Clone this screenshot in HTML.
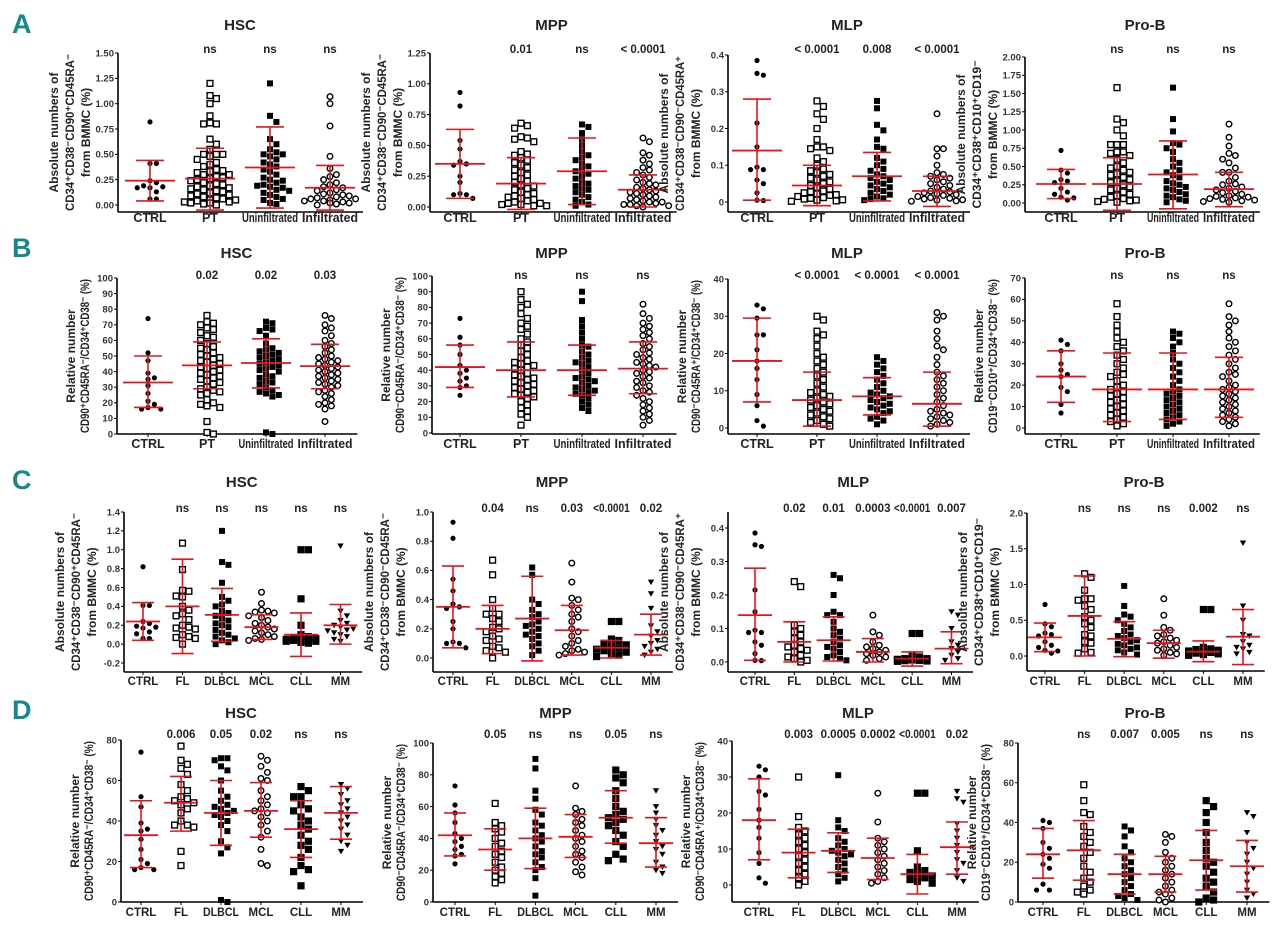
<!DOCTYPE html>
<html><head><meta charset="utf-8">
<style>
html,body{margin:0;padding:0;background:#fff;}
svg{display:block;font-family:"Liberation Sans",Arial,sans-serif;}
</style></head>
<body>
<svg id="fig" width="1280" height="931" viewBox="0 0 1280 931"></svg>
<script>
// ---------- categories ----------
const catsAB = ["CTRL","PT","Uninfiltrated","Infiltrated"];
const catsCD = ["CTRL","FL","DLBCL","MCL","CLL","MM"];
const titles = ["HSC","MPP","MLP","Pro-B"];

// ---------- Row A ----------
const aHscTicks=[0,0.25,0.5,0.75,1.0,1.25,1.5];
const aHscMean=[0.24,0.26,0.37,0.17]; const aHscLo=[0.04,-0.05,-0.03,-0.05]; const aHscHi=[0.44,0.56,0.77,0.39];
const aHscP=["","ns","ns","ns"];
const aHscPts=[[0.82,0.41,0.41,0.24,0.22,0.19,0.18,0.17,0.17,0.13,0.06,0.06],
[1.2,1.08,1.05,1.0,0.88,0.8,0.8,0.81,0.65,0.6,0.55,0.5,0.5,0.5,0.48,0.45,0.42,0.4,0.38,0.35,0.34,0.33,0.32,0.3,0.3,0.28,0.27,0.26,0.25,0.24,0.22,0.21,0.2,0.19,0.18,0.17,0.16,0.15,0.14,0.13,0.12,0.11,0.1,0.09,0.08,0.07,0.06,0.05,0.05,0.04,0.03,0.03,0.02,0.02,0.01,0.01,0.0],
[1.2,0.88,0.82,0.65,0.6,0.55,0.52,0.5,0.5,0.48,0.45,0.42,0.4,0.38,0.35,0.33,0.3,0.27,0.25,0.24,0.22,0.2,0.19,0.18,0.17,0.15,0.14,0.12,0.1,0.08,0.06,0.05,0.02,0.01],
[1.07,1.0,0.78,0.48,0.36,0.3,0.28,0.25,0.22,0.2,0.18,0.17,0.15,0.14,0.12,0.11,0.1,0.09,0.08,0.07,0.06,0.06,0.05,0.04,0.04,0.03,0.02,0.02,0.01,0.01,0.0]];

const aMppTicks=[0,0.25,0.5,0.75,1.0,1.25];
const aMppMean=[0.35,0.19,0.29,0.14]; const aMppLo=[0.07,-0.02,0.02,0.0]; const aMppHi=[0.63,0.4,0.56,0.26];
const aMppP=["","0.01","ns","< 0.0001"];
const aMppPts=[[0.93,0.82,0.54,0.47,0.37,0.35,0.34,0.25,0.2,0.11,0.1,0.1,0.07],
[0.68,0.66,0.64,0.57,0.56,0.55,0.53,0.45,0.43,0.42,0.4,0.38,0.36,0.34,0.32,0.3,0.28,0.26,0.25,0.23,0.21,0.2,0.18,0.17,0.15,0.14,0.12,0.11,0.1,0.09,0.08,0.07,0.06,0.05,0.04,0.03,0.03,0.02,0.02,0.01,0.01],
[0.67,0.65,0.6,0.55,0.5,0.45,0.42,0.4,0.38,0.35,0.33,0.3,0.29,0.27,0.25,0.23,0.2,0.19,0.17,0.15,0.14,0.12,0.1,0.08,0.06,0.04,0.02,0.01],
[0.56,0.53,0.44,0.42,0.38,0.35,0.32,0.3,0.28,0.26,0.24,0.22,0.2,0.19,0.18,0.16,0.15,0.14,0.13,0.12,0.11,0.1,0.09,0.08,0.07,0.06,0.05,0.04,0.04,0.03,0.02,0.02,0.01,0.01,0.0]];

const aMlpTicks=[0,0.1,0.2,0.3,0.4];
const aMlpMean=[0.14,0.045,0.07,0.03]; const aMlpLo=[0.005,-0.01,0.003,-0.012]; const aMlpHi=[0.28,0.1,0.135,0.07];
const aMlpP=["","< 0.0001","0.008","< 0.0001"];
const aMlpPts=[[0.385,0.35,0.345,0.215,0.15,0.095,0.088,0.088,0.06,0.05,0.025,0.005,0.004],
[0.275,0.26,0.24,0.225,0.2,0.17,0.15,0.15,0.145,0.14,0.12,0.11,0.1,0.09,0.085,0.08,0.075,0.07,0.065,0.06,0.055,0.05,0.045,0.04,0.035,0.03,0.028,0.025,0.022,0.02,0.018,0.015,0.012,0.01,0.008,0.006,0.005,0.003,0.002],
[0.275,0.255,0.21,0.195,0.17,0.15,0.145,0.12,0.11,0.1,0.09,0.085,0.075,0.07,0.065,0.06,0.055,0.05,0.045,0.04,0.035,0.03,0.025,0.02,0.015,0.01,0.008,0.005],
[0.24,0.145,0.145,0.125,0.1,0.08,0.075,0.07,0.065,0.06,0.055,0.05,0.045,0.04,0.035,0.03,0.028,0.025,0.022,0.02,0.018,0.015,0.012,0.01,0.008,0.006,0.005,0.003,0.002]];

const aProTicks=[0,0.25,0.5,0.75,1.0,1.25,1.5,1.75,2.0];
const aProMean=[0.26,0.26,0.39,0.19]; const aProLo=[0.06,-0.1,-0.08,-0.05]; const aProHi=[0.46,0.62,0.85,0.42];
const aProP=["","ns","ns","ns"];
const aProPts=[[0.72,0.45,0.41,0.32,0.3,0.28,0.2,0.15,0.12,0.08,0.07,0.04],
[1.58,1.15,1.1,1.0,0.92,0.8,0.8,0.8,0.7,0.7,0.68,0.65,0.6,0.55,0.5,0.48,0.45,0.42,0.4,0.38,0.35,0.32,0.3,0.28,0.25,0.22,0.2,0.18,0.15,0.12,0.1,0.08,0.06,0.05,0.04,0.03,0.02,0.01],
[1.58,1.15,0.98,0.82,0.8,0.75,0.7,0.6,0.55,0.5,0.45,0.42,0.38,0.35,0.3,0.27,0.25,0.22,0.2,0.18,0.15,0.12,0.1,0.08,0.05,0.03,0.01],
[1.08,0.9,0.78,0.68,0.65,0.6,0.55,0.48,0.42,0.42,0.35,0.3,0.26,0.25,0.22,0.2,0.18,0.16,0.14,0.12,0.1,0.09,0.08,0.07,0.06,0.05,0.04,0.03,0.02,0.01]];

// ---------- Row B ----------
const bHscTicks=[0,10,20,30,40,50,60,70,80,90,100];
const bHscMean=[33,44,45.5,43.5]; const bHscLo=[17,29,29.5,29]; const bHscHi=[50,59,61,57.5];
const bHscP=["","0.02","0.02","0.03"];
const bHscPts=[[74,52,47,39,36,35,31,26,21,19,17,16,16],
[76,72,71,70,68,67,65,63,62,60,58,56,55,54,52,51,50,49,48,47,46,45,44,43,42,41,40,39,38,37,36,35,34,33,32,30,29,28,27,26,25,22,20,19,18,17,8,1,0],
[72,71,68,67,66,63,58,55,54,53,52,51,50,49,48,47,46,45,44,43,42,41,40,38,37,36,34,33,32,30,28,27,26,25,24,1,0],
[76,74,70,68,66,63,60,58,56,54,52,50,49,48,47,46,45,44,43,42,41,40,39,38,37,36,35,34,33,32,31,30,28,27,26,24,22,20,19,18,16,8]];

const bMppTicks=[0,10,20,30,40,50,60,70,80,90,100];
const bMppMean=[42,40,40,41]; const bMppLo=[29,23,24,25]; const bMppHi=[56,58,56,58];
const bMppP=["","ns","ns","ns"];
const bMppPts=[[73,61,56,50,43,40,38,35,33,30,29,24],
[90,85,82,80,76,73,70,68,66,63,60,58,56,54,52,50,48,46,45,44,43,42,41,40,38,37,36,35,34,33,32,31,30,29,28,27,26,25,24,23,22,20,18,16,14,12,10,5],
[90,84,72,68,64,60,56,55,52,50,48,46,45,44,42,40,38,36,35,34,33,32,30,29,28,27,26,25,24,22,20,18,16,14],
[82,76,73,70,68,66,64,62,60,57,55,53,51,50,48,47,45,44,43,42,40,39,38,36,35,33,32,30,29,27,26,24,22,20,18,16,14,12,10,8,5]];

const bMlpTicks=[0,10,20,30,40];
const bMlpMean=[18,7.5,8.5,6.5]; const bMlpLo=[7,0.5,3.5,0.5]; const bMlpHi=[29.5,15,13.5,15];
const bMlpP=["","< 0.0001","< 0.0001","< 0.0001"];
const bMlpPts=[[33,32,29.5,25,25,21,18,16,13,9,6,2,0.5],
[30,29,26,25,24,22,20,19,18,17,16,15,14,13,12,11,10,9.5,9,8.5,8,7.5,7,6.5,6,5.5,5,4.5,4,3.5,3,2.5,2,1.5,1,0.5],
[19,18,17,16,15,14,13,12,11,10,9.5,9,8.5,8,7.5,7,6.5,6,5.5,5,4.5,4,3,2.5,2,1],
[31,30,29,26,24,22,21,19,17,15,14,13,12,11,10,9,8,7,6,5,4.5,4,3.5,3,2.5,2,1.5,1,0.5]];

const bProTicks=[0,10,20,30,40,50,60,70];
const bProMean=[24,18,18,18]; const bProLo=[12,3,4,5]; const bProHi=[36,35,35,33];
const bProP=["","ns","ns","ns"];
const bProPts=[[41,39,36,30,27,25,24,19,17,11,7],
[58,52,48,45,42,40,38,36,34,32,30,28,26,25,24,22,20,19,18,17,16,15,14,13,12,11,10,9,8,7,6,5,4,3,2,1],
[45,44,42,40,38,35,32,30,28,26,24,22,20,18,17,16,15,14,13,12,11,10,9,8,7,6,5,4,3,2,1],
[58,52,50,48,45,42,40,38,36,34,32,30,28,26,25,24,22,20,19,18,17,16,15,14,13,12,11,10,9,8,7,6,5,4,3,2,1]];

// ---------- Row C ----------
const cHscTicks=[-0.2,0,0.2,0.4,0.6,0.8,1.0,1.2,1.4];
const cHscMean=[0.24,0.4,0.31,0.18,0.1,0.2]; const cHscLo=[0.04,-0.1,0.03,0.05,-0.13,0.0]; const cHscHi=[0.44,0.9,0.59,0.31,0.33,0.42];
const cHscP=["","ns","ns","ns","ns","ns"];
const cHscPts=[[0.82,0.41,0.41,0.24,0.22,0.19,0.18,0.17,0.13,0.11,0.06,0.06],
[1.07,0.79,0.57,0.56,0.51,0.5,0.4,0.36,0.32,0.3,0.26,0.2,0.18,0.17,0.16,0.1,0.08,0.07,0.06,0.0],
[1.2,0.87,0.84,0.65,0.5,0.46,0.42,0.4,0.35,0.33,0.3,0.27,0.25,0.22,0.2,0.18,0.15,0.12,0.1,0.08,0.06,0.04,0.02,0.0],
[0.55,0.43,0.36,0.35,0.34,0.33,0.3,0.28,0.25,0.22,0.2,0.18,0.16,0.14,0.12,0.1,0.08,0.06,0.05,0.04],
[1.0,1.0,0.48,0.2,0.1,0.08,0.07,0.06,0.05,0.05,0.04,0.04,0.03,0.03,0.02,0.02,0.01],
[1.04,0.35,0.3,0.25,0.22,0.2,0.18,0.16,0.15,0.14,0.12,0.1,0.08,0.05,0.03]];

const cMppTicks=[0,0.2,0.4,0.6,0.8,1.0];
const cMppMean=[0.35,0.2,0.27,0.19,0.07,0.16]; const cMppLo=[0.07,0.03,-0.02,0.02,0.0,0.02]; const cMppHi=[0.63,0.36,0.56,0.36,0.12,0.3];
const cMppP=["","0.04","ns","0.03","<0.0001","0.02"];
const cMppPts=[[0.93,0.82,0.54,0.46,0.37,0.35,0.34,0.25,0.2,0.11,0.1,0.1,0.07],
[0.67,0.57,0.4,0.34,0.3,0.3,0.27,0.25,0.21,0.2,0.18,0.15,0.13,0.12,0.08,0.07,0.05,0.04,0.0],
[0.62,0.57,0.4,0.37,0.33,0.3,0.28,0.25,0.23,0.22,0.2,0.18,0.16,0.15,0.13,0.1,0.08,0.05,0.02],
[0.65,0.52,0.41,0.4,0.36,0.33,0.3,0.28,0.25,0.2,0.18,0.15,0.12,0.1,0.08,0.06,0.05,0.04,0.03,0.02],
[0.25,0.25,0.13,0.12,0.1,0.09,0.08,0.07,0.06,0.05,0.05,0.04,0.03,0.02,0.01],
[0.52,0.44,0.34,0.22,0.18,0.15,0.12,0.1,0.08,0.06,0.04,0.02]];

const cMlpTicks=[0,0.1,0.2,0.3,0.4];
const cMlpMean=[0.14,0.06,0.065,0.03,0.01,0.04]; const cMlpLo=[0.005,0.0,0.003,0.0,-0.012,-0.005]; const cMlpHi=[0.28,0.12,0.135,0.07,0.03,0.09];
const cMlpP=["","0.02","0.01","0.0003","<0.0001","0.007"];
const cMlpPts=[[0.385,0.35,0.345,0.215,0.15,0.095,0.088,0.088,0.06,0.05,0.025,0.005,0.004],
[0.24,0.225,0.11,0.1,0.09,0.08,0.07,0.06,0.05,0.045,0.04,0.035,0.03,0.02,0.015,0.01,0.005,0.0],
[0.26,0.25,0.2,0.15,0.14,0.14,0.12,0.1,0.09,0.08,0.07,0.06,0.05,0.045,0.04,0.03,0.02,0.015,0.01,0.005],
[0.14,0.09,0.08,0.06,0.05,0.045,0.04,0.035,0.03,0.025,0.02,0.015,0.01,0.005],
[0.085,0.085,0.02,0.015,0.01,0.01,0.008,0.006,0.005,0.004,0.003,0.002],
[0.15,0.14,0.1,0.06,0.05,0.04,0.03,0.02,0.01,0.005]];

const cProTicks=[0,0.5,1.0,1.5,2.0];
const cProMean=[0.26,0.56,0.24,0.18,0.06,0.27]; const cProLo=[0.06,0.0,-0.01,-0.03,-0.08,-0.12]; const cProHi=[0.46,1.12,0.48,0.36,0.21,0.65];
const cProP=["","ns","ns","ns","0.002","ns"];
const cProPts=[[0.72,0.45,0.41,0.32,0.3,0.28,0.2,0.15,0.12,0.08,0.07,0.04],
[1.15,1.1,0.92,0.8,0.8,0.78,0.7,0.65,0.55,0.5,0.45,0.4,0.3,0.28,0.2,0.18,0.1,0.05,0.04],
[0.98,0.7,0.58,0.55,0.5,0.45,0.4,0.35,0.3,0.28,0.25,0.22,0.2,0.17,0.15,0.12,0.1,0.08,0.05,0.02],
[0.8,0.57,0.4,0.36,0.3,0.28,0.25,0.22,0.2,0.18,0.15,0.12,0.1,0.08,0.05,0.03,0.01],
[0.65,0.65,0.12,0.1,0.09,0.08,0.07,0.06,0.05,0.04,0.03,0.02,0.01],
[1.58,0.7,0.5,0.3,0.28,0.2,0.15,0.12,0.1,0.05,0.03]];

// ---------- Row D ----------
const dHscTicks=[0,20,40,60,80];
const dHscMean=[33,49,44,45,36,44]; const dHscLo=[17,35,28,32,22,31]; const dHscHi=[50,62,60,59,50,57];
const dHscP=["","0.006","0.05","0.02","ns","ns"];
const dHscPts=[[74,52,47,39,36,35,31,26,21,19,17,16,16],
[77,70,68,66,63,58,55,52,51,50,49,48,46,44,40,38,38,37,25,18],
[71,71,70,67,65,60,55,52,50,48,47,46,45,44,43,42,40,38,35,30,27,24,1,0],
[72,70,67,64,61,60,55,52,50,48,46,45,44,42,40,38,35,32,26,19,18],
[57,55,52,52,48,46,45,42,40,38,36,33,30,28,26,22,18,16,15,8],
[58,56,53,50,48,46,44,42,40,38,36,33,30,28,25]];

const dMppTicks=[0,20,40,60,80,100];
const dMppMean=[42,33,40,41,53,37]; const dMppLo=[29,20,21,28,37,22]; const dMppHi=[56,46,59,55,70,53];
const dMppP=["","0.05","ns","ns","0.05","ns"];
const dMppPts=[[73,61,56,50,43,40,38,35,33,30,29,24],
[62,50,48,46,44,40,37,35,32,30,28,25,22,20,18,16,14,12],
[90,84,70,65,58,55,50,48,45,42,40,38,35,32,30,28,25,22,20,15,4],
[73,59,57,55,52,50,48,45,42,40,38,35,32,30,28,25,22,19,17],
[83,80,78,75,70,65,60,57,55,53,52,50,48,45,42,38,35,30,27,26],
[70,60,56,52,48,45,42,38,35,33,30,25,22,20,18]];

const dMlpTicks=[0,10,20,30,40];
const dMlpMean=[18,9,9.5,7.5,3,10.5]; const dMlpLo=[7,2,3.5,1.5,-2.5,3]; const dMlpHi=[29.5,15.5,14.5,13,8.5,17.5];
const dMlpP=["","0.003","0.0005","0.0002","<0.0001","0.02"];
const dMlpPts=[[33,32,30,26,25,21,18,16,13,9,6,2,0.5],
[30,19,16,15,14,13,12,11,10,9,8,7,6,5,4,3,2,1,0],
[30.5,18,16,15,13,12,11,10,9.5,9,8.5,8,7,6,5,4,3,2,1],
[25.5,17.5,13,12,11,10,9,8,7,6,5,4,3,2,1,0.5],
[25.5,25.5,9.5,5,4,3.5,3,2.5,2,1.5,1,0.5],
[26,24,23,17,15,13,11,9,7,6,4,2,1]];

const dProTicks=[0,20,40,60,80];
const dProMean=[24,26,14,14,21,18]; const dProLo=[12,11,4,5,6,5]; const dProHi=[37,41,24,23,36,31];
const dProP=["","ns","0.007","0.005","ns","ns"];
const dProPts=[[41,40,37,30,27,24,22,19,17,9,6,6],
[59,51,45,44,38,35,33,30,28,25,22,18,15,12,10,8,6,5,4],
[38,36,33,28,25,22,20,18,16,14,12,10,8,6,4,3,2,1],
[34,33,30,25,22,20,18,16,14,12,10,8,6,5,4,2,1,0],
[51,48,45,40,35,30,26,22,20,18,15,12,10,8,5,2,1,0],
[45,43,35,30,27,24,20,17,14,10,6,4,2]];

// ---------- drawing ----------
const NS="http://www.w3.org/2000/svg";
const svg=document.getElementById('fig');
const RED="#e8141b";
function el(tag,attrs,parent){const e=document.createElementNS(NS,tag);for(const k in attrs)e.setAttribute(k,attrs[k]);(parent||svg).appendChild(e);return e;}
function fit(t,maxLen){try{const w=t.getComputedTextLength();if(w>maxLen){t.setAttribute('textLength',maxLen);t.setAttribute('lengthAdjust','spacingAndGlyphs');}}catch(e){}}

const ylabA={HSC:["Absolute numbers of","CD34⁺CD38⁻CD90⁺CD45RA⁻","from BMMC (%)"],MPP:["Absolute numbers of","CD34⁺CD38⁻CD90⁻CD45RA⁻","from BMMC (%)"],MLP:["Absolute numbers of","CD34⁺CD38⁻CD90⁻CD45RA⁺","from BMMC (%)"],"Pro-B":["Absolute numbers of","CD34⁺CD38⁺CD10⁺CD19⁻","from BMMC (%)"]};
const ylabB={HSC:["Relative number","CD90⁺CD45RA⁻/CD34⁺CD38⁻ (%)"],MPP:["Relative number","CD90⁻CD45RA⁻/CD34⁺CD38⁻ (%)"],MLP:["Relative number","CD90⁻CD45RA⁺/CD34⁺CD38⁻ (%)"],"Pro-B":["Relative number","CD19⁻CD10⁺/CD34⁺CD38⁻ (%)"]};

const markersAB=["fcircle","osquare","fsquare","ocircle"];
const markersCD=["fcircle","osquare","fsquare","ocircle","bsquare","tri"];

function drawMarker(g,type,cx,cy){
  let m;
  if(type==="fcircle") m=el('circle',{cx:cx,cy:cy,r:2.6,fill:'#000'},g);
  else if(type==="ocircle") m=el('circle',{cx:cx,cy:cy,r:2.8,fill:'#fff',stroke:'#000','stroke-width':1.4},g);
  else if(type==="osquare") m=el('rect',{x:cx-2.9,y:cy-2.9,width:5.8,height:5.8,fill:'#fff',stroke:'#000','stroke-width':1.4},g);
  else if(type==="fsquare") m=el('rect',{x:cx-3,y:cy-3,width:6,height:6,fill:'#000'},g);
  else if(type==="bsquare") m=el('rect',{x:cx-3.6,y:cy-3.6,width:7.2,height:7.2,fill:'#000'},g);
  else m=el('path',{d:`M${cx-3.2},${cy-2.5}L${cx+3.2},${cy-2.5}L${cx},${cy+3}Z`,fill:'#000'},g);
  return m;
}

function panel(L,cats,markers,title,ylines,ticks,fmt,pts,mean,lo,hi,pv,key){
  const g=el('g',{});
  
  
  const y=v=>L.pBot+(v-L.vBot)*(L.pTop-L.pBot)/(L.vTop-L.vBot);
  const x=i=>L.x0+i*L.step;
  const last=x(cats.length-1);
  const axTop=Math.min(y(ticks[ticks.length-1]),L.axTop||9999);
  const t=el('text',{x:(L.x0+last)/2,y:L.titleY,'text-anchor':'middle','font-size':15,'font-weight':'bold',fill:'#222'},g);
  t.textContent=title;
  
  
  const ya=el('line',{x1:L.ax,y1:axTop,x2:L.ax,y2:L.axB,stroke:'#000','stroke-width':1.6},g);
  
  
  const xa=el('line',{x1:L.ax,y1:L.axB,x2:last+L.step*0.55,y2:L.axB,stroke:'#000','stroke-width':1.6},g);
  
  
  ticks.forEach(v=>{
    el('line',{x1:L.ax-3,y1:y(v),x2:L.ax,y2:y(v),stroke:'#000','stroke-width':1},g);
    const tl=el('text',{x:L.ax-4,y:y(v)+3.3,'text-anchor':'end','font-size':9.5,'font-weight':'bold',fill:'#333'},g);
    tl.textContent=fmt(v);
    
    
  });
  const cy=(axTop+L.axB)/2;
  const axH=L.axB-axTop;
  const n=ylines.length;
  const offs=n===3?[-60,-44,-28]:[-42,-28];
  ylines.forEach((s,k)=>{
    const lx=L.ax+offs[k];
    const yt=el('text',{x:lx,y:cy,'text-anchor':'middle','font-size':12,'font-weight':'bold',fill:'#222',transform:`rotate(-90 ${lx} ${cy})`},g);
    yt.textContent=s;
    fit(yt,axH-2);
    
    
  });
  const half=cats.length>4?17:29;
  cats.forEach((c,i)=>{
    const cx=x(i);
    el('line',{x1:cx,y1:L.axB,x2:cx,y2:L.axB+3,stroke:'#000','stroke-width':1},g);
    const cl=el('text',{x:cx,y:L.labY,'text-anchor':'middle','font-size':cats.length>4?11.5:12.5,'font-weight':'bold',fill:'#222'},g);
    cl.textContent=c;
    fit(cl,L.step-4);
    
    
    if(pv[i]){
      const pt=el('text',{x:cx,y:L.pY,'text-anchor':'middle','font-size':11.5,'font-weight':'bold',fill:'#222'},g);
      pt.textContent=pv[i];
      fit(pt,L.step-3);
      
      
    }
    const mk=markers[i], s=(mk==="bsquare"?7.4:6.4);
    const placed=[];
    const vals=pts[i].slice().sort((a,b)=>b-a);
    const maxK=Math.floor(half/s);
    vals.forEach((v,j)=>{
      const py=y(v);
      let best=null,bestCnt=1e9;
      for(let k=0;k<=2*maxK;k++){
        const off=(k%2===1?1:-1)*Math.ceil(k/2)*s;
        let cnt=0;
        for(const p of placed){if(Math.abs(p[0]-off)<s-0.3&&Math.abs(p[1]-py)<s-0.3)cnt++;}
        if(cnt===0){best=off;bestCnt=0;break;}
        if(cnt<bestCnt){bestCnt=cnt;best=off;}
      }
      placed.push([best,py]);
      const m=drawMarker(g,mk,cx+best,py);
      
      
    });
    const mw=cats.length>4?17:25, cw=cats.length>4?11:14;
    const eb=el('line',{x1:cx,y1:y(lo[i]),x2:cx,y2:y(hi[i]),stroke:RED,'stroke-width':1.6},g);
    
    
    el('line',{x1:cx-cw,y1:y(lo[i]),x2:cx+cw,y2:y(lo[i]),stroke:RED,'stroke-width':1.6},g);
    el('line',{x1:cx-cw,y1:y(hi[i]),x2:cx+cw,y2:y(hi[i]),stroke:RED,'stroke-width':1.6},g);
    const ml=el('line',{x1:cx-mw,y1:y(mean[i]),x2:cx+mw,y2:y(mean[i]),stroke:RED,'stroke-width':1.8},g);
    
    
  });
}

const f2=v=>v.toFixed(2), f1=v=>v.toFixed(1), f0=v=>String(v), fm=v=>v===0?"0":String(v);

[["A",33],["B",257],["C",489],["D",719]].forEach(([s,yy])=>{
  const t=el('text',{x:12,y:yy,'font-size':27,'font-weight':'bold',fill:'#16878a'});
  t.textContent=s;
  
  
});

const rA={titleY:30,pY:53,labY:222};
panel(Object.assign({ax:118,x0:150,step:60,vTop:1.5,pTop:53,vBot:0,pBot:205,axB:212},rA),catsAB,markersAB,"HSC",ylabA.HSC,aHscTicks,f2,aHscPts,aHscMean,aHscLo,aHscHi,aHscP,'a-hsc');
panel(Object.assign({ax:430,x0:460,step:61,vTop:1.25,pTop:53,vBot:0,pBot:207,axB:212},rA),catsAB,markersAB,"MPP",ylabA.MPP,aMppTicks,f2,aMppPts,aMppMean,aMppLo,aMppHi,aMppP,'a-mpp');
panel(Object.assign({ax:728,x0:757,step:60,vTop:0.4,pTop:55,vBot:0,pBot:202,axB:212},rA),catsAB,markersAB,"MLP",ylabA.MLP,aMlpTicks,fm,aMlpPts,aMlpMean,aMlpLo,aMlpHi,aMlpP,'a-mlp');
panel(Object.assign({ax:1025,x0:1061,step:56,vTop:2.0,pTop:57,vBot:0,pBot:203,axB:212},rA),catsAB,markersAB,"Pro-B",ylabA["Pro-B"],aProTicks,f2,aProPts,aProMean,aProLo,aProHi,aProP,'a-prob');

const rB={titleY:258,pY:279,labY:448};
panel(Object.assign({ax:117,x0:148,step:59,vTop:100,pTop:278,vBot:0,pBot:434,axB:434},rB),catsAB,markersAB,"HSC",ylabB.HSC,bHscTicks,f0,bHscPts,bHscMean,bHscLo,bHscHi,bHscP,'b-hsc');
panel(Object.assign({ax:432,x0:460,step:61,vTop:100,pTop:276,vBot:0,pBot:433,axB:434},rB),catsAB,markersAB,"MPP",ylabB.MPP,bMppTicks,f0,bMppPts,bMppMean,bMppLo,bMppHi,bMppP,'b-mpp');
panel(Object.assign({ax:728,x0:757,step:60,vTop:40,pTop:279,vBot:0,pBot:428,axB:434},rB),catsAB,markersAB,"MLP",ylabB.MLP,bMlpTicks,f0,bMlpPts,bMlpMean,bMlpLo,bMlpHi,bMlpP,'b-mlp');
panel(Object.assign({ax:1025,x0:1061,step:56,vTop:70,pTop:278,vBot:0,pBot:428,axB:434},rB),catsAB,markersAB,"Pro-B",ylabB["Pro-B"],bProTicks,f0,bProPts,bProMean,bProLo,bProHi,bProP,'b-prob');

const rC={titleY:487,pY:512,labY:685};
panel(Object.assign({ax:124,x0:143,step:39.5,vTop:1.4,pTop:512,vBot:-0.2,pBot:663,axB:672},rC),catsCD,markersCD,"HSC",ylabA.HSC,cHscTicks,f1,cHscPts,cHscMean,cHscLo,cHscHi,cHscP,'c-hsc');
panel(Object.assign({ax:433,x0:453,step:39.6,vTop:1.0,pTop:512,vBot:0,pBot:658,axB:672},rC),catsCD,markersCD,"MPP",ylabA.MPP,cMppTicks,f1,cMppPts,cMppMean,cMppLo,cMppHi,cMppP,'c-mpp');
panel(Object.assign({ax:728,x0:755,step:39.3,vTop:0.4,pTop:528,vBot:0,pBot:662,axB:672,axTop:512},rC),catsCD,markersCD,"MLP",ylabA.MLP,cMlpTicks,f1,cMlpPts,cMlpMean,cMlpLo,cMlpHi,cMlpP,'c-mlp');
panel(Object.assign({ax:1027,x0:1045,step:39.6,vTop:2.0,pTop:513,vBot:0,pBot:656,axB:671},rC),catsCD,markersCD,"Pro-B",ylabA["Pro-B"],cProTicks,f1,cProPts,cProMean,cProLo,cProHi,cProP,'c-prob');

const rD={titleY:718,pY:738,labY:916};
panel(Object.assign({ax:121,x0:141,step:40,vTop:80,pTop:740,vBot:0,pBot:902,axB:902},rD),catsCD,markersCD,"HSC",ylabB.HSC,dHscTicks,f0,dHscPts,dHscMean,dHscLo,dHscHi,dHscP,'d-hsc');
panel(Object.assign({ax:433,x0:455,step:40.2,vTop:100,pTop:743,vBot:0,pBot:902,axB:902},rD),catsCD,markersCD,"MPP",ylabB.MPP,dMppTicks,f0,dMppPts,dMppMean,dMppLo,dMppHi,dMppP,'d-mpp');
panel(Object.assign({ax:732,x0:759,step:39.6,vTop:40,pTop:741,vBot:0,pBot:885,axB:902},rD),catsCD,markersCD,"MLP",ylabB.MLP,dMlpTicks,f0,dMlpPts,dMlpMean,dMlpLo,dMlpHi,dMlpP,'d-mlp');
panel(Object.assign({ax:1018,x0:1043,step:40.8,vTop:80,pTop:743,vBot:0,pBot:902,axB:902},rD),catsCD,markersCD,"Pro-B",ylabB["Pro-B"],dProTicks,f0,dProPts,dProMean,dProLo,dProHi,dProP,'d-prob');
</script>
</body></html>
